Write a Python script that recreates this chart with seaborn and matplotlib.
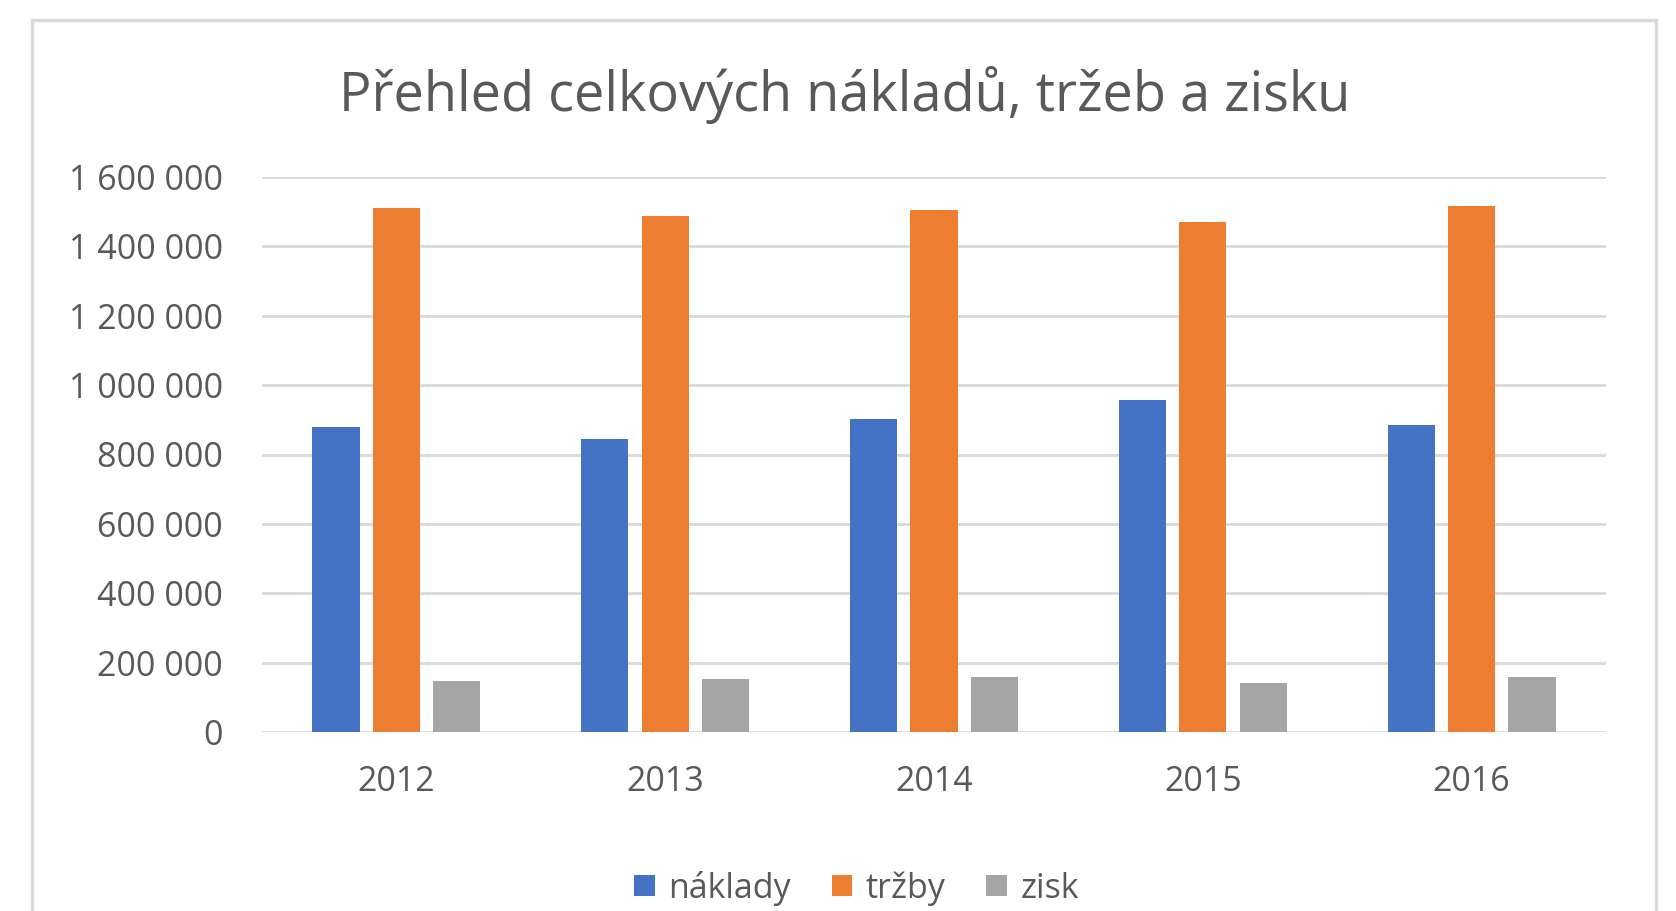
import pandas as pd
import matplotlib.pyplot as plt
import seaborn as sns
from matplotlib.patches import Rectangle
from matplotlib.ticker import FuncFormatter, MultipleLocator

# ========== DATA ==========
years = ["2012", "2013", "2014", "2015", "2016"]
naklady = [880000, 845000, 903000, 956000, 886000]
trzby = [1511000, 1488000, 1505000, 1471000, 1517000]
zisk = [146000, 152000, 158000, 141000, 158000]
series = ["náklady", "tržby", "zisk"]
colors = ["#4472C4", "#ED7D31", "#A5A5A5"]

df = pd.DataFrame({
    "rok": years * 3,
    "serie": [s for s in series for _ in years],
    "hodnota": naklady + trzby + zisk,
})

# ========== STYLE ==========
sns.set_theme(style="white")
plt.rcParams["font.family"] = ["Open Sans", "DejaVu Sans"]
TXT = "#595959"
GRID = "#D9D9D9"

fig = plt.figure(figsize=(16.76, 9.11), dpi=100)
ax = fig.add_axes([262 / 1676, 1 - 732 / 911, (1606 - 262) / 1676, (732 - 177) / 911])

sns.barplot(data=df, x="rok", y="hodnota", hue="serie", hue_order=series,
            palette=colors, width=0.675, gap=0.22, ax=ax, saturation=1,
            linewidth=0, legend=True)

ax.set_xlim(-0.5, 4.5)
ax.set_ylim(0, 1600000)
ax.yaxis.set_major_locator(MultipleLocator(200000))
ax.yaxis.set_major_formatter(FuncFormatter(lambda v, p: f"{v:,.0f}".replace(",", " ")))
ax.grid(axis="y", color=GRID, linewidth=2)
ax.set_axisbelow(True)
for s in ax.spines.values():
    s.set_visible(False)
ax.set_xlabel("")
ax.set_ylabel("")
ax.tick_params(axis="y", length=0, pad=28, labelsize=24.5, labelcolor=TXT)
ax.tick_params(axis="x", length=0, pad=24, labelsize=24.5, labelcolor=TXT)

fig.suptitle("Přehled celkových nákladů, tržeb a zisku", x=0.504, y=0.896,
             va="center", fontsize=39, color=TXT)

leg = ax.legend(loc="center", bbox_to_anchor=(0.511, 1 - 888 / 911),
                bbox_transform=fig.transFigure, ncol=3, frameon=False,
                fontsize=24.5, handlelength=0.6, handleheight=0.6,
                handletextpad=0.4, columnspacing=1.2)
for t in leg.get_texts():
    t.set_color(TXT)

# outer chart frame
fig.patches.append(Rectangle((32 / 1676, -0.05), (1656 - 32) / 1676, 1.05 - 20 / 911,
                             transform=fig.transFigure, fill=False,
                             edgecolor=GRID, linewidth=2.5))

fig.savefig("out.png", dpi=100, facecolor="white")
